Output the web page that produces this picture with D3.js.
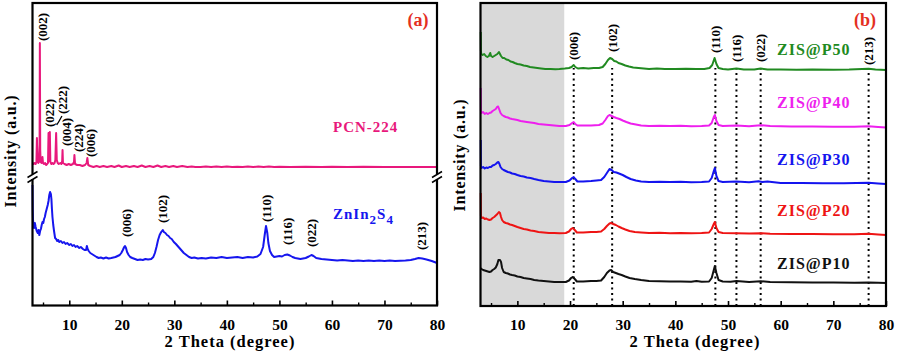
<!DOCTYPE html>
<html><head><meta charset="utf-8">
<script src="https://cdn.jsdelivr.net/npm/d3@7"></script>
<style>
body{margin:0;background:#fff}
svg{display:block}
text{font-family:"Liberation Serif","Times New Roman",serif;font-weight:bold}
</style>
</head><body>
<svg id="chart" width="902" height="358"></svg>
<script>
// ---------- data ----------
const thetaMajor = [10,20,30,40,50,60,70,80];
const thetaMinor = [5,15,25,35,45,55,65,75];
const xTitle = "2 Theta (degree)";
const yTitle = "Intensity (a.u.)";

const pcn224 = [[3.0,12],[3.2,11],[3.4,12],[3.6,11],[3.75,13],[3.84,37],[3.95,14],[4.1,12],[4.25,13],[4.35,30],[4.4,132],[4.47,25],[4.55,13],[4.7,12],[4.9,18],[5.0,12],[5.2,11],[5.4,12],[5.6,10],[5.8,11],[5.95,12],[6.05,42],[6.15,14],[6.3,43],[6.4,13],[6.6,11],[6.8,12],[7.0,11],[7.2,12],[7.35,15],[7.5,42],[7.62,15],[7.8,12],[8.0,11],[8.3,12],[8.5,11],[8.65,14],[8.72,25],[8.8,12],[9.1,11],[9.5,10],[9.9,11],[10.3,10],[10.7,11],[10.9,13],[10.98,20],[11.1,11],[11.5,10],[12.0,10],[12.5,9],[13.0,10],[13.3,12],[13.45,17],[13.6,10],[14.0,9],[14.6,8],[15.2,9],[15.8,8],[16.5,9],[17.2,8],[18.0,9],[18.6,8],[19.4,9.5],[20.0,8],[20.8,9],[21.5,8],[22.3,9],[23.0,8],[23.8,9.5],[24.5,8],[25.3,9],[26.0,8],[26.8,9.5],[27.5,8],[28.3,9],[29.0,8],[29.8,9],[30.5,8],[31.5,9],[32.5,8],[33.3,8.5],[34.0,8],[35,8],[36,8.5],[37,8],[38,8.5],[39,8],[40,8.5],[41,8],[42,8.3],[43,8],[44,8.5],[45,8],[46,8.4],[47,8],[48,8.5],[49,8],[50,8.3],[52,8],[55,8.3],[58,8],[60,8.2],[63,8],[66,8.2],[70,8],[74,8.1],[77,8],[80,8]];

const znIn2S4 = [[3.0,120],[3.05,95],[3.1,85],[3.2,80],[3.3,77],[3.45,82],[3.6,78],[3.8,74],[4.0,72],[4.15,75],[4.3,70],[4.45,74],[4.6,76],[4.75,80],[4.9,83],[5.05,82],[5.2,86],[5.35,88],[5.5,92],[5.7,96],[5.9,100],[6.05,104],[6.2,110],[6.35,113],[6.5,111],[6.6,106],[6.7,96],[6.8,88],[6.95,80],[7.1,74],[7.3,67],[7.5,66],[7.7,64],[7.9,65],[8.1,63],[8.4,64],[8.7,62],[9.0,63],[9.3,61],[9.6,62],[10.0,60],[10.3,61],[10.6,59],[10.9,60],[11.2,58],[11.5,59],[11.9,57],[12.2,58],[12.6,56],[12.9,55],[13.2,55],[13.35,59],[13.5,56],[13.7,54],[14.0,52],[14.3,51],[14.6,50],[14.9,49],[15.2,48],[15.6,47],[16.0,47.5],[16.5,46.5],[17.0,47.5],[17.5,46.5],[18.0,47],[18.4,47.5],[18.8,48],[19.2,49],[19.6,50],[19.9,52],[20.2,55],[20.45,58],[20.6,59],[20.8,57],[21.0,53],[21.3,50],[21.6,48],[22.0,47],[22.5,46],[23.0,45],[23.5,45.5],[24.0,45],[24.5,46],[25.0,45.5],[25.6,46],[26.0,48],[26.3,52],[26.6,58],[26.9,65],[27.2,70],[27.5,73],[27.8,75],[28.0,73],[28.3,72],[28.6,70],[28.9,69],[29.2,67],[29.5,66],[29.9,63],[30.3,61],[30.8,58],[31.3,55],[31.8,52],[32.3,50],[32.8,48],[33.3,47],[33.8,47.5],[34.5,46.5],[35.2,47],[36,46.5],[37,47.5],[38,47],[39,48],[40,47],[41,47.5],[42,48],[43,47],[44,48],[45,47.5],[45.8,48.5],[46.4,51],[46.9,58],[47.2,70],[47.45,79],[47.7,72],[47.9,62],[48.2,54],[48.6,50],[49.0,48],[49.5,48.5],[50.0,49],[50.5,48.5],[51.0,50],[51.5,50.5],[52.0,49.5],[52.5,48],[53.0,47],[53.5,46.5],[54.0,46],[54.5,46.5],[55.0,47],[55.6,48.5],[56.1,50],[56.5,49],[57.0,47],[57.5,46.5],[58.0,46],[59,45.5],[60,45],[61,44.5],[62,45],[63,44.5],[64,44],[65,44.5],[66,44],[67,44.5],[68,44],[69,44.5],[70,44],[71,44.5],[72,44],[73,44.3],[74,44.5],[75,45],[75.8,46],[76.5,47],[77.2,46.5],[78,45.5],[79,44],[80,42]];

const zisP50 = [[3.05,274],[3.08,255],[3.15,252],[3.4,251],[3.7,252],[4.0,250],[4.3,249],[4.6,250],[4.85,253],[5.0,250],[5.3,249],[5.6,250],[5.9,251],[6.2,252],[6.5,254],[6.7,252],[6.9,250],[7.2,248],[7.5,248],[7.9,246.5],[8.3,246],[8.7,244.5],[9.1,244],[9.5,243],[10.0,242],[10.6,241.5],[11.2,240.5],[11.8,240],[12.4,239],[13.1,238.5],[13.8,238],[14.5,237.5],[15.3,237],[16.3,237],[17.2,236.8],[18.0,237],[19.0,237.5],[19.8,238],[20.3,239],[20.7,241],[21.0,239],[21.5,237.5],[22.5,238],[23.5,237.5],[24.5,238],[25.5,238],[26.2,239],[26.7,242],[27.2,246],[27.6,248],[28.0,247],[28.4,245],[28.8,244.5],[29.2,243],[29.8,242],[30.5,240.5],[31.2,239.5],[32,238.5],[33,238],[34,237.5],[35,237],[36.5,237.5],[38,237],[40,237],[42,237.3],[44,237],[45.5,237],[46.5,238],[47.0,241],[47.45,248],[47.8,242],[48.2,238],[49,237],[50,236.5],[51.6,237.5],[53,236.5],[55,236.5],[56.2,237.5],[57.5,236.5],[60,236.5],[63,236.3],[66,236.5],[70,236.3],[73,236.5],[76.7,237.3],[78,236.5],[80,236]];

const zisP40 = [[3.05,218],[3.08,195],[3.2,193],[3.5,194],[3.8,192],[4.1,193],[4.4,192],[4.7,193],[5.0,193.5],[5.3,195],[5.6,196],[5.9,197],[6.15,199],[6.35,199.5],[6.6,196],[6.8,193],[7.1,191],[7.4,190],[7.8,189],[8.2,188.5],[8.6,187.5],[9.0,187],[9.5,186.5],[10.0,186],[10.6,185],[11.2,184.5],[11.8,184],[12.5,183.5],[13.2,183],[14,182],[15,181.5],[16,181],[17,180.5],[18,180],[19.2,180],[19.9,181],[20.4,183],[20.7,184],[21.0,182],[21.4,180.5],[22.5,180.5],[24,180.5],[25.5,181],[26.2,182.5],[26.7,186],[27.2,190],[27.5,191],[27.9,190],[28.3,189],[28.8,188],[29.4,187],[30,185.5],[30.7,184],[31.5,182.5],[32.5,181.5],[33.5,180.5],[35,180],[37,180.3],[39,180],[41,180.2],[43,179.8],[45,180],[46.4,180.5],[46.9,183],[47.3,189],[47.5,191],[47.8,185],[48.2,181],[49,180],[51.6,180.5],[54,179.8],[56.2,180.8],[58,180],[62,179.5],[66,179.5],[70,179.3],[74,179.3],[76.7,179.8],[78.5,179],[80,178.5]];

const zisP30 = [[3.05,166],[3.08,140],[3.2,138],[3.5,139],[3.8,137.5],[4.1,138.5],[4.4,138],[4.7,139],[5.0,139],[5.3,140.5],[5.6,141],[5.9,142],[6.2,143.5],[6.4,144],[6.6,142],[6.8,139],[7.1,137],[7.4,136],[7.8,135],[8.2,134],[8.6,133.5],[9.0,132.5],[9.5,132],[10,131],[10.6,130],[11.2,129.5],[11.8,128.5],[12.5,128],[13.2,127],[14,126],[15,125],[16,124.5],[17,124],[18,124],[19.2,124],[19.9,125.5],[20.4,128],[20.7,129],[21.0,127],[21.4,124.5],[22.5,124.5],[24,125],[25,125.5],[25.9,126],[26.5,129],[27,133],[27.5,137],[27.9,136],[28.3,134],[28.8,133.5],[29.3,132.5],[30,131],[30.7,129],[31.5,127],[32.5,125.5],[33.5,124.5],[35,124],[37,124.3],[39,124],[41,124.2],[43,123.8],[45,124],[46.4,124.5],[46.9,128],[47.3,135],[47.5,138],[47.8,130],[48.2,125],[49,124],[51.6,124.5],[54,123.8],[55.8,124.8],[56.5,124],[57.5,124.5],[60,123],[64,123],[68,122.8],[72,122.8],[76.7,123.3],[78.5,122.5],[80,122]];

const zisP20 = [[3.05,113],[3.08,90],[3.2,88],[3.5,88.5],[3.8,87],[4.1,87.5],[4.4,86.5],[4.7,86],[5.0,86.5],[5.3,88],[5.6,89],[5.9,90.5],[6.2,92],[6.5,94],[6.7,93],[6.9,89],[7.1,86],[7.4,84],[7.8,83],[8.2,82.5],[8.6,81.5],[9.0,81],[9.5,80],[10,79],[10.6,78],[11.2,77],[11.8,76.5],[12.5,75.5],[13.2,75],[14,74],[15,73.5],[16,73],[17,73],[18,72.8],[19.2,73],[19.8,74.5],[20.2,77],[20.5,78],[20.9,76],[21.3,73.5],[22.5,73.5],[24,74],[25,74],[25.9,74.5],[26.5,77],[27,80],[27.5,82.5],[27.8,83],[28.2,82],[28.7,81],[29.2,79.5],[29.8,78],[30.5,76.5],[31.3,75],[32.3,74],[33.5,73.5],[35,73],[37,73.2],[39,72.8],[41,73],[43,72.8],[45,73],[46.4,73.5],[46.9,77],[47.3,82],[47.5,84],[47.8,78],[48.2,74],[49,73],[51.6,72.8],[54,72.5],[56.2,72.8],[58,72.3],[62,72],[66,72],[70,71.8],[74,71.8],[76.7,72.3],[78.5,71.5],[80,71]];

const zisP10 = [[3.05,38],[3.2,37],[3.5,36],[3.8,35.5],[4.1,35],[4.4,34.5],[4.7,34],[5.0,34.5],[5.3,36],[5.6,37],[5.9,38.5],[6.2,42],[6.4,46],[6.7,46],[6.9,44],[7.1,38],[7.4,34],[7.8,33],[8.2,32.5],[8.6,31.5],[9.0,31],[9.5,30.5],[10,29.5],[10.6,29],[11.2,28],[11.8,27.5],[12.5,27],[13.2,26],[14,25.5],[15,25],[16,24.5],[17,24],[18,24],[19.2,24],[19.8,25.5],[20.2,28],[20.5,29],[20.9,27],[21.3,24.5],[22.5,24.5],[24,25],[25,25],[25.9,25.5],[26.5,29],[27,33],[27.5,35.5],[27.8,36],[28.2,34],[28.7,33],[29.2,32],[29.8,31],[30.5,29.5],[31.3,28],[32.3,27],[33.5,26],[35,25],[37,24.8],[39,24.5],[41,24.5],[43,24.3],[44,25],[45,24.3],[46.4,24.5],[46.9,28],[47.3,36],[47.5,40],[47.8,33],[48.2,26],[49,24.5],[50.5,24.3],[51.6,25],[54,24],[56.2,24.8],[58,24],[62,23.8],[66,23.5],[70,23.5],[74,23.3],[76.7,23.5],[78.5,23.2],[80,23]];

// peak annotations: hkl, label theta, label start (intensity units)
const pcnPeakHkl   = ["(002)","(022)","(222)","(004)","(224)","(006)"];
const pcnPeakTheta = [4.9, 6.3, 8.7, 9.5, 11.85, 14.1];
const pcnPeakAt    = [134, 48, 61, 29, 23, 18];

const zisPeakHkl   = ["(006)","(102)","(110)","(116)","(022)","(213)"];
const zisPeakTheta = [20.9, 27.8, 47.6, 51.6, 56.2, 77.1];
const zisPeakAt    = [68, 82, 83, 60, 58, 55];

const refTheta = [20.7, 28.0, 47.6, 51.6, 56.2, 76.7];
const refLabelAt = [246, 254, 253, 244, 244, 241];

const seriesB = ["ZIS@P50","ZIS@P40","ZIS@P30","ZIS@P20","ZIS@P10"];
const seriesBData = [zisP50, zisP40, zisP30, zisP20, zisP10];
const seriesBLabelAt = [251, 198, 141, 90, 37];
const shadeRange = [3, 18.9];

// ---------- styles ----------
const colPink = "#e8187c", colBlueA = "#1616ee", colRedLbl = "#e4301f";
const colorsB = ["#218a21","#ee1fee","#1414ee","#ee1414","#111111"];

const svg = d3.select("#chart");

// ---------- panel (a) ----------
const A = {l:32.5, r:437, t:3, b:305.5, brk:177};
const xA = d3.scaleLinear().domain([3,80]).range([A.l, A.r]);
const yAu = d3.scaleLinear().domain([0,172]).range([175,3]);
const yAl = d3.scaleLinear().domain([0,130]).range([305,175]);

function drawXAxis(g, x, yb) {
  const maj = g.append("g").attr("transform",`translate(0,${yb})`)
    .call(d3.axisBottom(x).tickValues(thetaMajor).tickSize(-5).tickPadding(13).tickFormat(d3.format("d")));
  maj.select(".domain").remove();
  maj.selectAll(".tick line").attr("stroke","#000").attr("stroke-width",1.6);
  maj.selectAll(".tick text").attr("font-size",15.5).attr("fill","#000")
     .style("font-family","'Liberation Serif',serif").style("font-weight","bold");
  const mi = g.append("g").attr("transform",`translate(0,${yb})`)
    .call(d3.axisBottom(x).tickValues(thetaMinor).tickSize(-3).tickFormat(""));
  mi.select(".domain").remove();
  mi.selectAll(".tick line").attr("stroke","#000").attr("stroke-width",1.4);
}

const gA = svg.append("g");
const lineAu = d3.line().x(d=>xA(d[0])).y(d=>yAu(d[1]));
const lineAl = d3.line().x(d=>xA(d[0])).y(d=>yAl(d[1]));
gA.append("path").datum(pcn224).attr("d",lineAu).attr("fill","none").attr("stroke",colPink).attr("stroke-width",2).attr("stroke-linejoin","round");
gA.append("path").datum(znIn2S4).attr("d",lineAl).attr("fill","none").attr("stroke",colBlueA).attr("stroke-width",2).attr("stroke-linejoin","round");

// frame
gA.append("rect").attr("x",A.l).attr("y",A.t).attr("width",A.r-A.l).attr("height",A.b-A.t)
  .attr("fill","none").attr("stroke","#000").attr("stroke-width",2.2);
drawXAxis(gA, xA, A.b);
// axis breaks
[A.l, A.r].forEach(bx=>{
  gA.append("rect").attr("x",bx-3).attr("y",A.brk-3).attr("width",6).attr("height",5).attr("fill","#fff");
  [-2.5,2.5].forEach(o=>{
    gA.append("line").attr("x1",bx-5).attr("y1",A.brk+o+3).attr("x2",bx+5).attr("y2",A.brk+o-3)
      .attr("stroke","#000").attr("stroke-width",1.5);
  });
});

function peakLabels(g, x, y, hkl, th, at, fs) {
  hkl.forEach((h,i)=>{
    g.append("text").attr("transform",`translate(${x(th[i])+4.5},${y(at[i])}) rotate(-90)`)
      .attr("font-size",fs).attr("fill","#000").text(h);
  });
}
peakLabels(gA, xA, yAu, pcnPeakHkl, pcnPeakTheta, pcnPeakAt, 13);
peakLabels(gA, xA, yAl, zisPeakHkl, zisPeakTheta, zisPeakAt, 13);
// pointer from (222) label to its peak
gA.append("path")
  .attr("d",`M${xA(8.6)},${yAu(59)} Q${xA(8.0)},${yAu(53)} ${xA(7.6)},${yAu(50)}`)
  .attr("fill","none").attr("stroke","#000").attr("stroke-width",1.3);

gA.append("text").attr("x",418).attr("y",26).attr("text-anchor","middle").attr("font-size",18).attr("fill",colRedLbl).text("(a)");
gA.append("text").attr("x",333).attr("y",132).attr("font-size",15).attr("letter-spacing",1).attr("fill",colPink).text("PCN-224");
const zt = gA.append("text").attr("x",333).attr("y",219).attr("font-size",15).attr("letter-spacing",1).attr("fill",colBlueA);
zt.append("tspan").text("ZnIn");
zt.append("tspan").attr("dy",5).attr("font-size",13).text("2");
zt.append("tspan").attr("dy",-5).text("S");
zt.append("tspan").attr("dy",5).attr("font-size",13).text("4");

gA.append("text").attr("transform","translate(16,151) rotate(-90)").attr("text-anchor","middle")
  .attr("font-size",16).attr("letter-spacing",0.8).attr("fill","#000").text(yTitle);
gA.append("text").attr("x",230).attr("y",347).attr("text-anchor","middle")
  .attr("font-size",16.5).attr("letter-spacing",1).attr("fill","#000").text(xTitle);

// ---------- panel (b) ----------
const B = {l:480.5, r:886, t:3, b:306};
const xB = d3.scaleLinear().domain([3,80]).range([B.l, B.r]);
const yB = d3.scaleLinear().domain([0,303]).range([306,3]);
const gB = svg.append("g");
gB.append("rect").attr("x",xB(shadeRange[0])).attr("y",B.t).attr("width",xB(shadeRange[1])-xB(shadeRange[0]))
  .attr("height",B.b-B.t).attr("fill","#d9d9d9");

refTheta.forEach(t=>{
  gB.append("line").attr("x1",xB(t)).attr("x2",xB(t)).attr("y1",yB(0)).attr("y2",yB(238))
    .attr("stroke","#000").attr("stroke-width",2).attr("stroke-dasharray","2,3.5");
});
const lineB = d3.line().x(d=>xB(d[0])).y(d=>yB(d[1]));
seriesBData.forEach((s,i)=>{
  gB.append("path").datum(s).attr("d",lineB).attr("fill","none").attr("stroke",colorsB[i])
    .attr("stroke-width",2).attr("stroke-linejoin","round");
});
gB.append("rect").attr("x",B.l).attr("y",B.t).attr("width",B.r-B.l).attr("height",B.b-B.t)
  .attr("fill","none").attr("stroke","#000").attr("stroke-width",2.2);
drawXAxis(gB, xB, B.b);
peakLabels(gB, xB, yB, zisPeakHkl, refTheta, refLabelAt, 13);
seriesB.forEach((n,i)=>{
  gB.append("text").attr("x",777).attr("y",yB(seriesBLabelAt[i])).attr("font-size",16)
    .attr("letter-spacing",1).attr("fill",colorsB[i]).text(n);
});
gB.append("text").attr("x",865).attr("y",26).attr("text-anchor","middle").attr("font-size",18).attr("fill",colRedLbl).text("(b)");
gB.append("text").attr("transform","translate(465,155) rotate(-90)").attr("text-anchor","middle")
  .attr("font-size",16).attr("letter-spacing",0.8).attr("fill","#000").text(yTitle);
gB.append("text").attr("x",695).attr("y",347).attr("text-anchor","middle")
  .attr("font-size",16.5).attr("letter-spacing",1).attr("fill","#000").text(xTitle);
</script>
</body></html>
